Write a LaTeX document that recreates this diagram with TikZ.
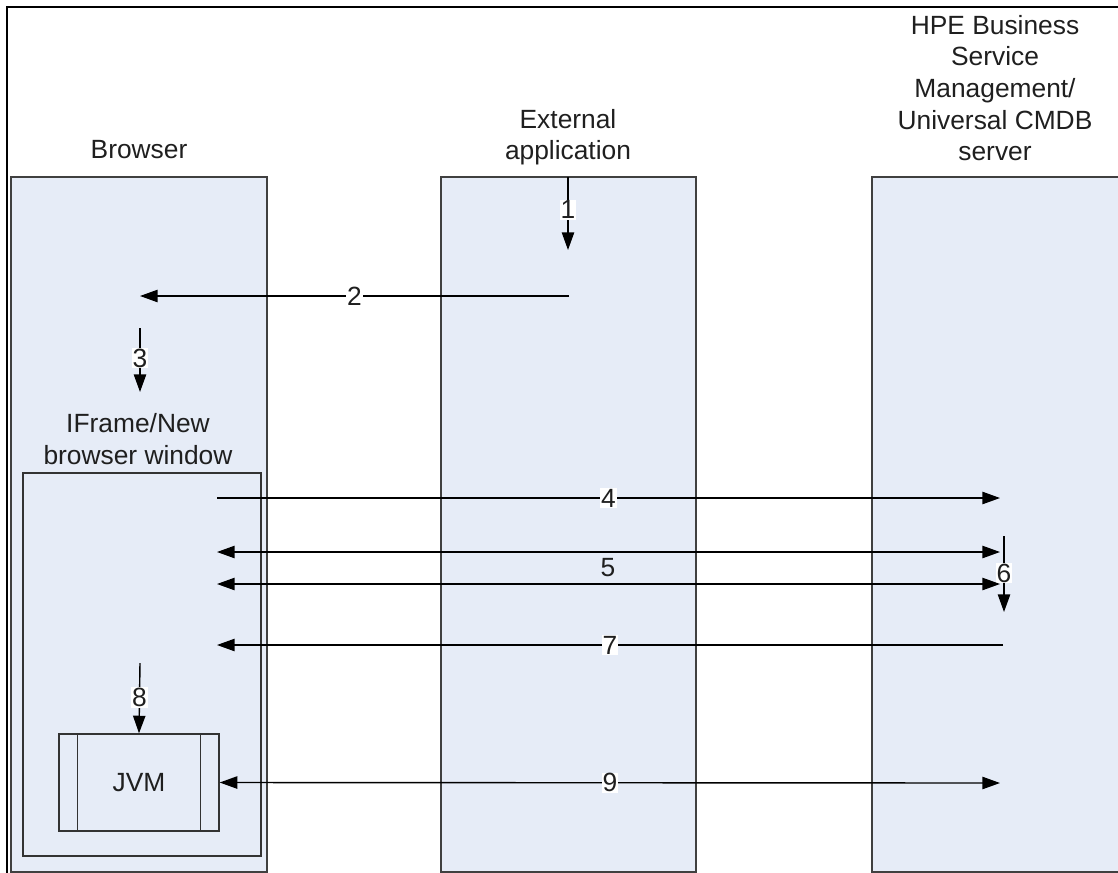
\documentclass[tikz,border=0pt]{standalone}
\usepackage{fontspec}
\setmainfont{Liberation Sans}
\usetikzlibrary{arrows.meta, positioning}
\definecolor{lanefill}{RGB}{230,236,247}

\begin{document}
\begin{tikzpicture}[x=0.02cm, y=-0.02cm,
    every node/.style={font=\fontsize{15}{18}\selectfont, text=black!88},
    lane/.style={draw=black!75, line width=0.8pt, fill=lanefill},
    frame/.style={draw=black!80, line width=0.8pt},
    num/.style={fill=white, inner sep=0.5pt},
    msg/.style={line width=0.8pt, -{Triangle[length=10pt, width=7pt]}},
    twoway/.style={line width=0.8pt, {Triangle[length=10pt, width=7pt]}-{Triangle[length=10pt, width=7pt]}}]
    \useasboundingbox (0,0) rectangle (1118,872);

    % Lanes
    \draw[lane] (11,177) rectangle (267,872);
    \draw[lane] (441,177) rectangle (696,872);
    \draw[lane] (872,177) rectangle (1130,872);

    % Outer frame
    \draw[line width=1.1pt] (7,880) |- (1130,7);

    % Lane titles
    \node (browser) at (139,150) {Browser};
    \node[align=center] (extapp) at (568,137) {External\\application};
    \node[align=center] (server) at (995,88) {HPE Business\\Service\\Management/\\Universal CMDB\\server};

    % IFrame / new browser window
    \draw[frame] (23,473) rectangle (261,856);
    \node[align=center] (iframe) at (138,439) {IFrame/New\\browser window};

    % JVM
    \node[frame, minimum width=3.2cm, minimum height=1.94cm] (jvm) at (139,782.5) {JVM};
    \draw[frame] ([xshift=0.38cm]jvm.north west) -- ([xshift=0.38cm]jvm.south west);
    \draw[frame] ([xshift=-0.38cm]jvm.north east) -- ([xshift=-0.38cm]jvm.south east);

    % Message end points
    \coordinate (s1) at (568,177);  \coordinate (e1) at (568,250);
    \coordinate (s2) at (569,296);  \coordinate (e2) at (140,296);
    \coordinate (s3) at (140,328);  \coordinate (e3) at (140,392);
    \coordinate (s4) at (217,498);  \coordinate (e4) at (1000,498);
    \coordinate (s5) at (217,552);  \coordinate (e5) at (1000,552);
    \coordinate (t5) at (217,584);  \coordinate (f5) at (1000,584);
    \coordinate (s6) at (1004,536); \coordinate (e6) at (1004,612);
    \coordinate (s7) at (1003,645); \coordinate (e7) at (217,645);
    \coordinate (s8) at (140,663);
    \coordinate (e9) at (1000,783);

    % Messages
    \draw[msg] (s1) -- node[num, pos=0.45] (n1) {1} (e1);
    \draw[msg] (s2) -- node[num] (n2) {2} (e2);
    \draw[msg] (s3) -- node[num, pos=0.47] (n3) {3} (e3);
    \draw[msg] (s4) -- node[num] (n4) {4} (e4);
    \draw[msg] (s6) -- node[num, pos=0.49] (n6) {6} (e6);
    \draw[twoway] (s5) -- (e5);
    \draw[twoway] (t5) -- (f5);
    \node (n5) at (608,568) {5};
    \draw[msg] (s7) -- node[num] (n7) {7} (e7);
    \draw[msg] (s8) -- node[num, pos=0.49] (n8) {8} (jvm.north);
    \draw[twoway] (jvm.east) -- node[num] (n9) {9} (e9);
\end{tikzpicture}
\end{document}
